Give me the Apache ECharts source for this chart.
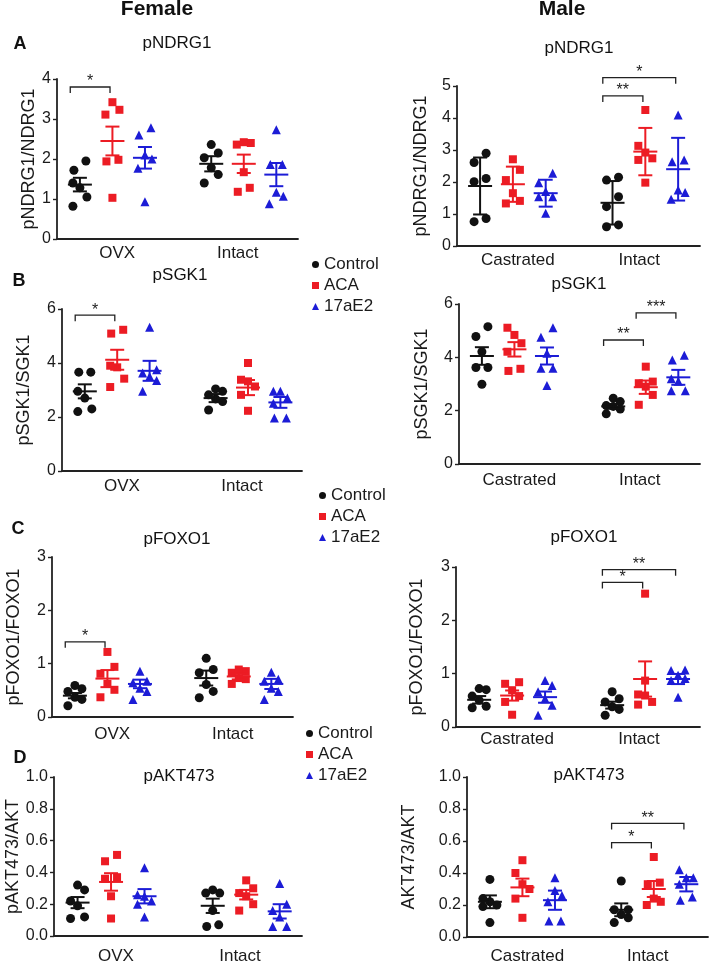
<!DOCTYPE html>
<html>
<head>
  <meta charset="UTF-8">
  <title>pNDRG1 / pSGK1 / pFOXO1 / pAKT473</title>
  <style>
    html, body { margin: 0; padding: 0; background: #fff; }
    #main { width: 709px; height: 965px; }
  </style>
</head>
<body>
  <div id="main"></div>
  <script src="https://cdn.jsdelivr.net/npm/echarts@6/dist/echarts.min.js"></script>
  <script>
    // groups and categories
    const groups = ['Control', 'ACA', '17aE2'];
    const femaleCats = ['OVX', 'Intact'];
    const maleCats = ['Castrated', 'Intact'];

    // each array: 6 columns -> Control, ACA, 17aE2 (first category), then the same for the second
    const fNdrg1 = [
      [1.95, 1.72, 1.4, 1.28, 1.05, 0.82],
      [3.42, 3.23, 3.11, 1.98, 1.94, 1.03],
      [2.78, 2.6, 2.1, 2.0, 1.77, 0.93],
      [2.36, 2.15, 2.03, 1.78, 1.61, 1.4],
      [2.42, 2.4, 2.36, 1.67, 1.28, 1.18],
      [2.73, 1.86, 1.86, 1.17, 1.07, 0.88]
    ];
    const fNdrg1Mean = [1.36, 2.45, 2.03, 1.88, 1.88, 1.61];
    const fNdrg1Err = [0.17, 0.36, 0.27, 0.19, 0.23, 0.29];

    const mNdrg1 = [
      [2.9, 2.61, 2.11, 2.01, 0.86, 0.76],
      [2.71, 2.38, 2.06, 1.65, 1.41, 1.33],
      [2.27, 1.98, 1.7, 1.54, 1.54, 1.02],
      [2.15, 2.06, 1.54, 1.23, 0.66, 0.6],
      [4.25, 3.13, 2.92, 2.74, 2.69, 1.98],
      [4.09, 2.69, 2.63, 1.75, 1.67, 1.46]
    ];
    const mNdrg1Mean = [1.875, 1.93, 1.65, 1.35, 2.95, 2.4];
    const mNdrg1Err = [0.89, 0.55, 0.42, 0.68, 0.74, 0.98];

    const fSgk1 = [
      [3.66, 3.66, 2.95, 2.7, 2.3, 2.2],
      [5.23, 5.09, 3.9, 3.84, 3.42, 3.11],
      [5.32, 3.75, 3.63, 3.5, 3.35, 2.95],
      [3.04, 2.95, 2.82, 2.67, 2.57, 2.26],
      [4.0, 3.38, 3.32, 3.13, 2.82, 2.23],
      [2.95, 2.95, 2.7, 2.51, 1.96, 1.96]
    ];
    const fSgk1Mean = [2.95, 4.12, 3.71, 2.7, 3.09, 2.54];
    const fSgk1Err = [0.26, 0.37, 0.37, 0.15, 0.28, 0.2];

    const mSgk1 = [
      [5.15, 4.78, 4.21, 3.62, 3.62, 2.99],
      [5.11, 4.84, 4.53, 4.21, 3.57, 3.49],
      [5.11, 4.75, 4.15, 3.59, 3.59, 2.94],
      [2.47, 2.34, 2.19, 2.16, 2.06, 1.88],
      [3.65, 3.09, 3.03, 2.9, 2.59, 2.22],
      [4.08, 3.9, 3.2, 3.1, 2.75, 2.75]
    ];
    const mSgk1Mean = [4.05, 4.3, 4.05, 2.16, 2.88, 3.25];
    const mSgk1Err = [0.33, 0.27, 0.32, 0.09, 0.25, 0.28];

    const fFoxo1 = [
      [0.59, 0.53, 0.48, 0.37, 0.33, 0.21],
      [1.22, 0.94, 0.81, 0.62, 0.51, 0.37],
      [0.86, 0.67, 0.64, 0.54, 0.48, 0.33],
      [1.1, 0.89, 0.83, 0.61, 0.48, 0.36],
      [0.89, 0.86, 0.83, 0.73, 0.71, 0.62],
      [0.84, 0.71, 0.67, 0.54, 0.48, 0.33]
    ];
    const fFoxo1Mean = [0.4, 0.72, 0.62, 0.73, 0.76, 0.62];
    const fFoxo1Err = [0.05, 0.16, 0.08, 0.14, 0.055, 0.095];

    const mFoxo1 = [
      [0.72, 0.7, 0.58, 0.5, 0.39, 0.36],
      [0.84, 0.81, 0.69, 0.58, 0.47, 0.23],
      [0.87, 0.78, 0.66, 0.53, 0.41, 0.22],
      [0.66, 0.53, 0.47, 0.38, 0.33, 0.22],
      [2.5, 0.87, 0.61, 0.59, 0.47, 0.42],
      [1.07, 1.06, 0.97, 0.91, 0.87, 0.56]
    ];
    const mFoxo1Mean = [0.51, 0.59, 0.56, 0.41, 0.9, 0.9];
    const mFoxo1Err = [0.07, 0.095, 0.105, 0.065, 0.33, 0.095];

    const fAkt = [
      [0.32, 0.29, 0.22, 0.19, 0.12, 0.11],
      [0.51, 0.47, 0.37, 0.36, 0.25, 0.11],
      [0.43, 0.26, 0.25, 0.22, 0.2, 0.12],
      [0.29, 0.27, 0.27, 0.16, 0.07, 0.06],
      [0.35, 0.3, 0.27, 0.25, 0.2, 0.16],
      [0.33, 0.2, 0.16, 0.12, 0.06, 0.06]
    ];
    const fAktMean = [0.21, 0.34, 0.25, 0.19, 0.26, 0.155];
    const fAktErr = [0.035, 0.055, 0.045, 0.045, 0.03, 0.045];

    const mAkt = [
      [0.36, 0.24, 0.22, 0.2, 0.19, 0.09],
      [0.48, 0.4, 0.33, 0.3, 0.24, 0.12],
      [0.37, 0.29, 0.26, 0.22, 0.1, 0.1],
      [0.35, 0.17, 0.17, 0.14, 0.12, 0.09],
      [0.5, 0.34, 0.33, 0.24, 0.22, 0.2],
      [0.42, 0.37, 0.37, 0.33, 0.25, 0.23]
    ];
    const mAktMean = [0.22, 0.31, 0.23, 0.17, 0.3, 0.33];
    const mAktErr = [0.04, 0.055, 0.06, 0.04, 0.05, 0.045];

    // significance brackets: [from column, to column, height, label]
    const fNdrg1Sig = [[0, 1, 3.8, '*']];
    const mNdrg1Sig = [[3, 4, 4.69, '**'], [3, 5, 5.26, '*']];
    const fSgk1Sig = [[0, 1, 5.77, '*']];
    const mSgk1Sig = [[3, 4, 4.65, '**'], [4, 5, 5.67, '***']];
    const fFoxo1Sig = [[0, 1, 1.41, '*']];
    const mFoxo1Sig = [[3, 4, 2.71, '*'], [3, 5, 2.95, '**']];
    const fAktSig = [];
    const mAktSig = [[3, 4, 0.59, '*'], [3, 5, 0.71, '**']];

    // layout
    const colors = ['#111111', '#ec1c24', '#1c1cd6'];
    const symbols = ['circle', 'rect', 'triangle'];
    const symSize = [9, 8, 9];
    const colX = [9.5, 23, 36.5, 64, 77.5, 91];
    const font = 'Liberation Sans, Arial, sans-serif';

    const panels = [
      { title: 'pNDRG1', yName: 'pNDRG1/NDRG1', cats: femaleCats, vals: fNdrg1, mean: fNdrg1Mean, err: fNdrg1Err, sig: fNdrg1Sig,
        left: 57, top: 79, width: 241, height: 160, yMax: 4, step: 1, nameGap: 18, catGap: 6, tx: 177, ty: 43 },
      { title: 'pNDRG1', yName: 'pNDRG1/NDRG1', cats: maleCats, vals: mNdrg1, mean: mNdrg1Mean, err: mNdrg1Err, sig: mNdrg1Sig,
        left: 457, top: 86, width: 243, height: 160, yMax: 5, step: 1, nameGap: 27, catGap: 6, tx: 579, ty: 48 },
      { title: 'pSGK1', yName: 'pSGK1/SGK1', cats: femaleCats, vals: fSgk1, mean: fSgk1Mean, err: fSgk1Err, sig: fSgk1Sig,
        left: 62, top: 309, width: 240, height: 162, yMax: 6, step: 2, nameGap: 29, catGap: 7, tx: 180, ty: 275 },
      { title: 'pSGK1', yName: 'pSGK1/SGK1', cats: maleCats, vals: mSgk1, mean: mSgk1Mean, err: mSgk1Err, sig: mSgk1Sig,
        left: 459, top: 304, width: 241, height: 160, yMax: 6, step: 2, nameGap: 28, catGap: 8, tx: 579, ty: 284 },
      { title: 'pFOXO1', yName: 'pFOXO1/FOXO1', cats: femaleCats, vals: fFoxo1, mean: fFoxo1Mean, err: fFoxo1Err, sig: fFoxo1Sig,
        left: 52, top: 557, width: 241, height: 160, yMax: 3, step: 1, nameGap: 29, catGap: 9, tx: 177, ty: 539 },
      { title: 'pFOXO1', yName: 'pFOXO1/FOXO1', cats: maleCats, vals: mFoxo1, mean: mFoxo1Mean, err: mFoxo1Err, sig: mFoxo1Sig,
        left: 456, top: 567, width: 244, height: 160, yMax: 3, step: 1, nameGap: 30, catGap: 4, tx: 584, ty: 537 },
      { title: 'pAKT473', yName: 'pAKT473/AKT', cats: femaleCats, vals: fAkt, mean: fAktMean, err: fAktErr, sig: fAktSig,
        left: 54, top: 777, width: 248, height: 160, yMax: 1, step: 0.2, nameGap: 31, catGap: 12, tx: 179, ty: 776 },
      { title: 'pAKT473', yName: 'AKT473/AKT', cats: maleCats, vals: mAkt, mean: mAktMean, err: mAktErr, sig: mAktSig,
        left: 467, top: 777, width: 241, height: 160, yMax: 1, step: 0.2, nameGap: 49, catGap: 11, tx: 589, ty: 775 }
    ];

    // spread points with close values sideways (px offsets turned into axis units)
    function spread(vals, cx, pyu, pxu) {
      const idx = vals.map((v, i) => i).sort((a, b) => vals[a] - vals[b]);
      const pts = [];
      let run = [];
      const flush = () => {
        const pat = run.length === 1 ? [0] : run.length === 2 ? [-6, 6] : [-7, 7, 0];
        run.forEach((i, k) => pts.push([cx + pat[k % pat.length] / pxu, vals[i]]));
        run = [];
      };
      idx.forEach(i => {
        if (run.length && (vals[i] - vals[run[run.length - 1]]) * pyu >= 12) flush();
        run.push(i);
      });
      flush();
      return pts;
    }

    function errItem(params, api) {
      const x = api.value(0), m = api.value(1), e = api.value(2);
      const st = { stroke: colors[api.value(3)], lineWidth: 2 };
      const pm = api.coord([x, m]);
      const ph = api.coord([x, m + e]);
      const pl = api.coord([x, m - e]);
      return {
        type: 'group',
        children: [
          { type: 'line', shape: { x1: pm[0] - 12, y1: pm[1], x2: pm[0] + 12, y2: pm[1] }, style: st },
          { type: 'line', shape: { x1: ph[0], y1: ph[1], x2: pl[0], y2: pl[1] }, style: st },
          { type: 'line', shape: { x1: ph[0] - 7, y1: ph[1], x2: ph[0] + 7, y2: ph[1] }, style: st },
          { type: 'line', shape: { x1: pl[0] - 7, y1: pl[1], x2: pl[0] + 7, y2: pl[1] }, style: st }
        ]
      };
    }

    function sigRenderer(sig) {
      return function (params, api) {
        const a = api.coord([api.value(0), api.value(2)]);
        const b = api.coord([api.value(1), api.value(2)]);
        const st = { stroke: '#222', lineWidth: 1.3, fill: null };
        return {
          type: 'group',
          children: [
            { type: 'polyline', shape: { points: [[a[0], a[1] + 6], a, b, [b[0], b[1] + 6]] }, style: st },
            { type: 'text', x: (a[0] + b[0]) / 2, y: a[1] + 3,
              style: { text: sig[params.dataIndex][3], fill: '#222', font: '16px ' + font, align: 'center', verticalAlign: 'bottom' } }
          ]
        };
      };
    }

    const grid = [], xAxis = [], yAxis = [], series = [];
    const graphic = [
      { type: 'text', x: 157, y: 9, style: { text: 'Female', font: 'bold 21px ' + font, fill: '#111', align: 'center', verticalAlign: 'middle' } },
      { type: 'text', x: 562, y: 9, style: { text: 'Male', font: 'bold 21px ' + font, fill: '#111', align: 'center', verticalAlign: 'middle' } }
    ];
    [['A', 20, 44], ['B', 19, 281], ['C', 18, 529], ['D', 20, 758]].forEach(([t, x, y]) => {
      graphic.push({ type: 'text', x: x, y: y, style: { text: t, font: 'bold 18px ' + font, fill: '#111', align: 'center', verticalAlign: 'middle' } });
    });

    panels.forEach((p, i) => {
      grid.push({ left: p.left, top: p.top, width: p.width, height: p.height });
      xAxis.push({
        type: 'value', gridIndex: i, min: 0, max: 100,
        axisLine: { show: true, lineStyle: { color: '#222', width: 1.8 } },
        axisTick: { show: false }, axisLabel: { show: false }, splitLine: { show: false }
      });
      xAxis.push({
        type: 'category', gridIndex: i, data: p.cats, position: 'bottom',
        axisLine: { show: false }, axisTick: { show: false },
        axisLabel: { margin: p.catGap, fontSize: 17, color: '#1a1a1a', fontFamily: font }
      });
      yAxis.push({
        type: 'value', gridIndex: i, min: 0, max: p.yMax, interval: p.step,
        name: p.yName, nameLocation: 'middle', nameGap: p.nameGap,
        nameTextStyle: { fontSize: 18, color: '#1a1a1a', fontFamily: font },
        axisLine: { show: true, lineStyle: { color: '#222', width: 1.8 } },
        axisTick: { show: true, length: 4, lineStyle: { color: '#222', width: 1.4 } },
        axisLabel: {
          margin: 6, fontSize: 16, color: '#1a1a1a', fontFamily: font,
          formatter: v => p.step < 1 ? v.toFixed(1) : String(v)
        },
        splitLine: { show: false }
      });
      graphic.push({ type: 'text', x: p.tx, y: p.ty, style: { text: p.title, font: '17px ' + font, fill: '#111', align: 'center', verticalAlign: 'middle' } });

      const pyu = p.height / p.yMax, pxu = p.width / 100;
      groups.forEach((g, k) => {
        series.push({
          name: g, type: 'scatter', xAxisIndex: 2 * i, yAxisIndex: i,
          symbol: symbols[k], symbolSize: symSize[k],
          itemStyle: { color: colors[k], opacity: 1 },
          emphasis: { disabled: true },
          data: spread(p.vals[k], colX[k], pyu, pxu).concat(spread(p.vals[k + 3], colX[k + 3], pyu, pxu))
        });
      });
      series.push({
        type: 'custom', xAxisIndex: 2 * i, yAxisIndex: i, renderItem: errItem, z: 5,
        data: p.mean.map((m, c) => [colX[c], m, p.err[c], c % 3])
      });
      if (p.sig.length) {
        series.push({
          type: 'custom', xAxisIndex: 2 * i, yAxisIndex: i, renderItem: sigRenderer(p.sig), z: 5,
          data: p.sig.map(s => [colX[s[0]] - 4, colX[s[1]] - 1, s[2]])
        });
      }
    });

    const legendData = groups.map((g, k) => ({ name: g, icon: symbols[k] }));
    const legend = [[307, 251], [314, 482], [301, 720]].map(([l, t]) => ({
      orient: 'vertical', left: l, top: t, itemWidth: 7, itemHeight: 7, itemGap: 4,
      selectedMode: false, data: legendData,
      textStyle: { fontSize: 17, color: '#1a1a1a', fontFamily: font }
    }));

    const myChart = echarts.init(document.getElementById('main'), null, { renderer: 'canvas' });
    myChart.setOption({
      animation: false,
      textStyle: { fontFamily: font },
      grid: grid,
      xAxis: xAxis,
      yAxis: yAxis,
      legend: legend,
      graphic: graphic,
      series: series
    });
  </script>
</body>
</html>
